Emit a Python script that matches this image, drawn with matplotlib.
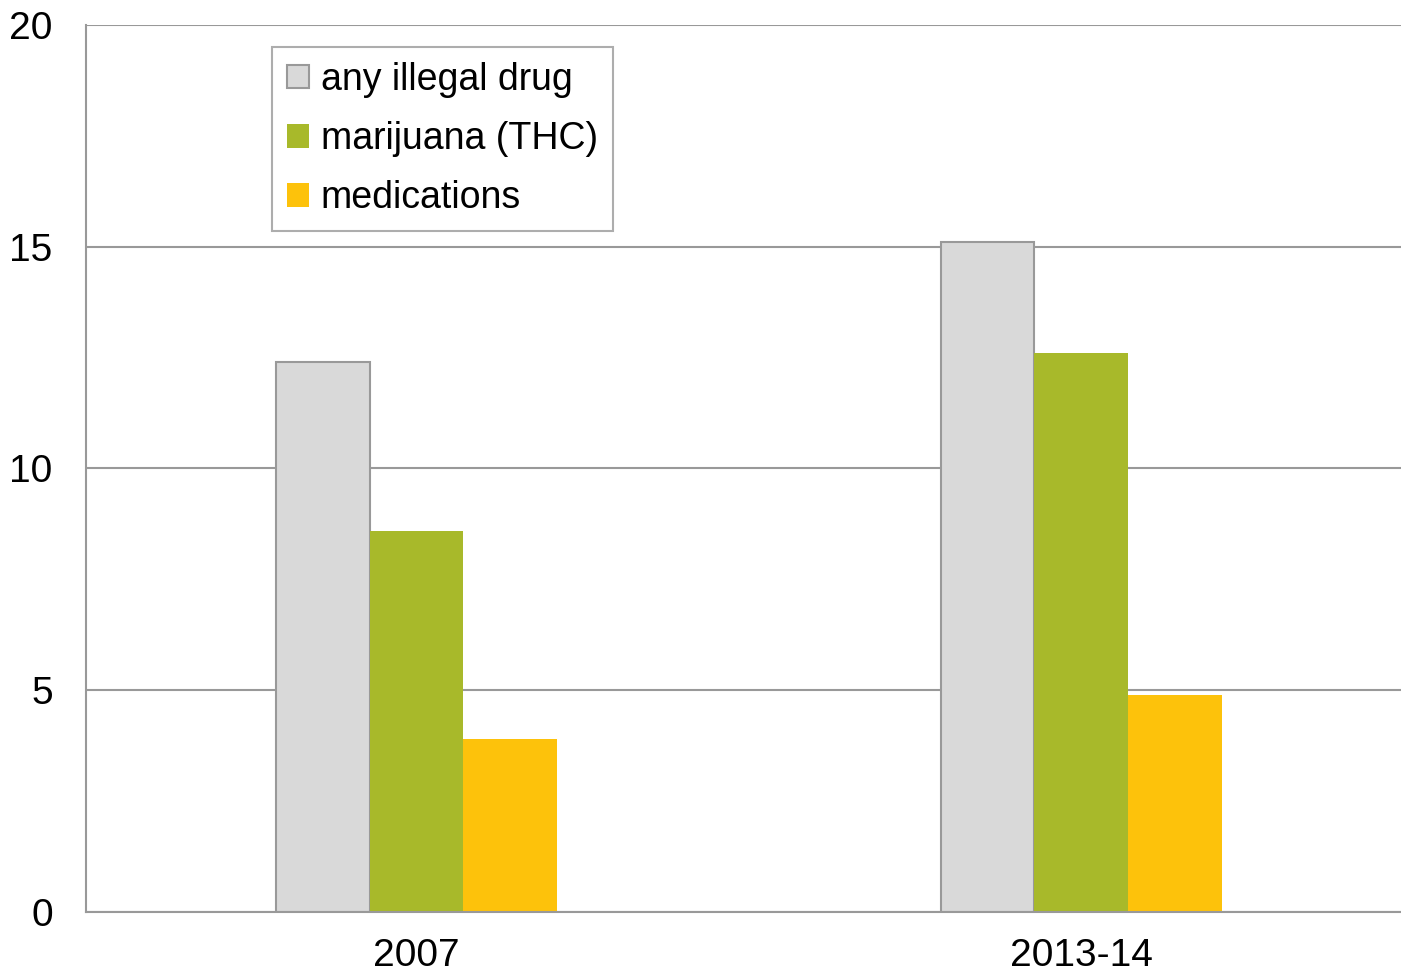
import matplotlib
matplotlib.use("Agg")
import matplotlib.pyplot as plt
import numpy as np

# data
periods = ["2007", "2013-14"]
series_names = ["any illegal drug", "marijuana (THC)", "medications"]
any_drug = [12.4, 15.1]
marijuana = [8.6, 12.6]
medications = [3.9, 4.9]

colors = ["#d9d9d9", "#a8b92a", "#fdc20b"]
edges = ["#999999", "none", "none"]

plt.rcParams["font.family"] = ["Liberation Sans", "DejaVu Sans"]

fig = plt.figure(figsize=(14.01, 9.74), dpi=100, facecolor="white")
# plot area runs a little past the right edge of the picture
ax = fig.add_axes([0.0614, 0.0637, 0.949, 0.9106])

x = np.arange(len(periods))
w = 0.141
for i, (vals, name) in enumerate(zip([any_drug, marijuana, medications], series_names)):
    ax.bar(x + (i - 1) * w, vals, width=w, color=colors[i], edgecolor=edges[i],
           linewidth=1.5, label=name, zorder=3)

ax.set_xlim(-0.497, 1.503)
ax.set_ylim(0, 20)
ax.set_yticks([0, 5, 10, 15, 20])
ax.set_xticks(x)
ax.set_xticklabels(periods)
ax.tick_params(length=0, labelsize=28)
ax.tick_params(axis="x", pad=19)
ax.tick_params(axis="y", pad=24)
ax.grid(axis="y", color="#999999", linewidth=1.5, zorder=0)
for side in ["top", "right"]:
    ax.spines[side].set_visible(False)
for side in ["left", "bottom"]:
    ax.spines[side].set_color("#999999")
    ax.spines[side].set_linewidth(1.5)
    ax.spines[side].set_zorder(4)

leg = ax.legend(loc="upper left", bbox_to_anchor=(0.194, 0.952),
                bbox_transform=fig.transFigure, fontsize=27, fancybox=False,
                handlelength=0.6, handleheight=0.6, handletextpad=0.3,
                labelspacing=0.62, borderpad=0.4, borderaxespad=0)
leg.get_frame().set_edgecolor("#999999")
leg.get_frame().set_linewidth(1.5)

fig.savefig("out.png", dpi=100, facecolor="white")
